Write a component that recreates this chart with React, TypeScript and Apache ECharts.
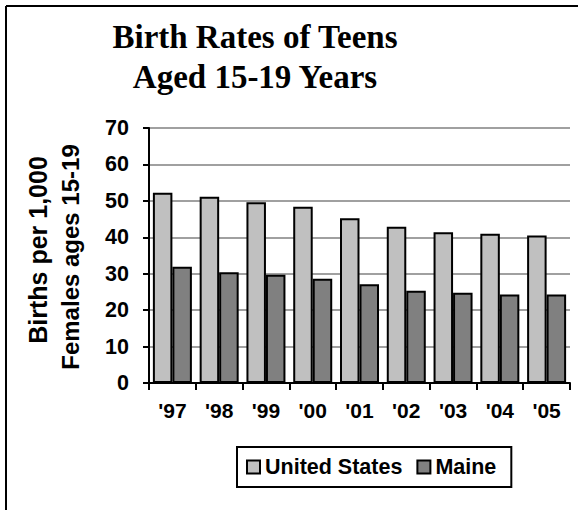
import React, { useEffect, useRef } from "react";
import * as echarts from "echarts";

const categories = ["'97", "'98", "'99", "'00", "'01", "'02", "'03", "'04", "'05"];
const usValues = [52.2, 51.1, 49.6, 48.4, 45.2, 42.9, 41.4, 41.0, 40.5];
const maineValues = [31.9, 30.4, 29.7, 28.6, 27.1, 25.3, 24.8, 24.3, 24.3];
const seriesNames = ["United States", "Maine"];
const yTitle = ["Births per 1,000", "Females ages 15-19"];
const titleLines = ["Birth Rates of Teens", "Aged 15-19 Years"];

const SANS = "'Liberation Sans', Arial, sans-serif";
const SERIF = "'Liberation Serif', 'Times New Roman', serif";

export default function App() {
  const ref = useRef<HTMLDivElement>(null);
  useEffect(() => {
    document.body.style.margin = "0";
    document.body.style.overflow = "hidden";
    document.documentElement.style.overflow = "hidden";
    const chart = echarts.init(ref.current!, null, { renderer: "svg" });
    chart.setOption({
      animation: false,
      backgroundColor: "#ffffff",
      grid: { left: 149, right: 8, top: 128, bottom: 127, containLabel: false },
      legend: {
        data: seriesNames,
        left: 237,
        top: 447,
        orient: "horizontal",
        itemWidth: 13,
        itemHeight: 13,
        itemGap: 14,
        padding: [9, 15, 9, 9],
        borderColor: "#000",
        borderWidth: 2,
        backgroundColor: "#fff",
        icon: "rect",
        textStyle: { fontFamily: SANS, fontWeight: "bold", fontSize: 21.5, color: "#000" },
      },
      xAxis: {
        type: "category",
        data: categories,
        axisLine: { show: true, lineStyle: { color: "#000", width: 2 } },
        axisTick: { show: true, length: 7, lineStyle: { color: "#000", width: 2 } },
        axisLabel: { margin: 17, fontFamily: SANS, fontWeight: "bold", fontSize: 21, color: "#000" },
      },
      yAxis: {
        type: "value",
        min: 0,
        max: 70,
        interval: 10,
        axisLine: { show: true, lineStyle: { color: "#000", width: 2 } },
        axisTick: { show: true, length: 6, lineStyle: { color: "#000", width: 2 } },
        axisLabel: { margin: 20, fontFamily: SANS, fontWeight: "bold", fontSize: 21.5, color: "#000" },
        splitLine: { show: true, lineStyle: { color: "#a0a0a0", width: 2 } },
      },
      series: [
        {
          name: seriesNames[0],
          type: "bar",
          data: usValues,
          barWidth: 19.5,
          barGap: "0%",
          itemStyle: { color: "#c0c0c0", borderColor: "#000", borderWidth: 2 },
        },
        {
          name: seriesNames[1],
          type: "bar",
          data: maineValues,
          barWidth: 19.5,
          barGap: "0%",
          itemStyle: { color: "#808080", borderColor: "#000", borderWidth: 2 },
        },
      ],
      graphic: [
        {
          type: "line",
          shape: { x1: 6, y1: 6, x2: 578, y2: 6 },
          style: { stroke: "#000", lineWidth: 2 },
          silent: true,
          z: 100,
        },
        {
          type: "line",
          shape: { x1: 6, y1: 6, x2: 6, y2: 510 },
          style: { stroke: "#000", lineWidth: 2 },
          silent: true,
          z: 100,
        },
        {
          type: "text",
          x: 255,
          y: 37,
          style: {
            text: titleLines[0],
            align: "center",
            verticalAlign: "middle",
            font: `bold 33px ${SERIF}`,
            fill: "#000",
          },
        },
        {
          type: "text",
          x: 255,
          y: 77,
          style: {
            text: titleLines[1],
            align: "center",
            verticalAlign: "middle",
            font: `bold 33px ${SERIF}`,
            fill: "#000",
          },
        },
        {
          type: "text",
          x: 38,
          y: 250,
          rotation: Math.PI / 2,
          style: {
            text: yTitle[0],
            align: "center",
            verticalAlign: "middle",
            font: `bold 25px ${SANS}`,
            fill: "#000",
          },
        },
        {
          type: "text",
          x: 70,
          y: 257,
          rotation: Math.PI / 2,
          style: {
            text: yTitle[1],
            align: "center",
            verticalAlign: "middle",
            font: `bold 24px ${SANS}`,
            fill: "#000",
          },
        },
      ],
    });
    return () => chart.dispose();
  }, []);
  return <div ref={ref} style={{ width: 578, height: 510, overflow: "hidden" }} />;
}
